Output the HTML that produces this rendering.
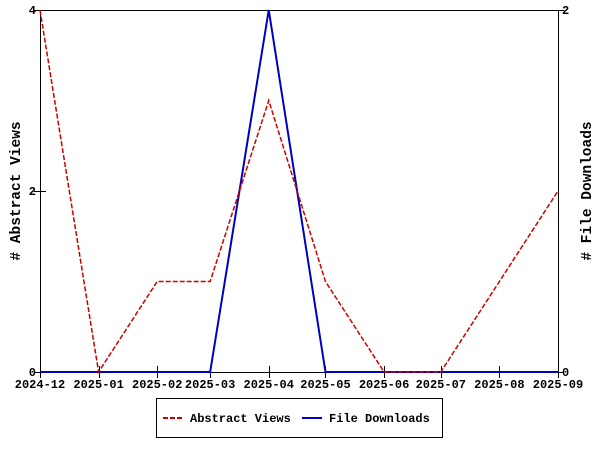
<!DOCTYPE html>
<html><head><meta charset="utf-8"><style>
body{margin:0;background:#fff;}
svg{display:block;font-family:"Liberation Mono","DejaVu Sans Mono",monospace;font-weight:bold;font-size:12px;}
</style></head><body>
<svg id="c" width="600" height="450"></svg>
<script>
const categories=["2024-12","2025-01","2025-02","2025-03","2025-04","2025-05","2025-06","2025-07","2025-08","2025-09"];
const abstractViews=[4,0,1,1,3,1,0,0,1,2];
const fileDownloads=[0,0,0,0,2,0,0,0,0,0];
const leftTicks=[0,2,4];
const rightTicks=[0,2];
const NS="http://www.w3.org/2000/svg";
const svg=document.getElementById('c');
const L=40,R=558,T=10,B=372;
function day(s){const [y,m]=s.split('-').map(Number);return Date.UTC(y,m-1,1)/864e5;}
const d0=day(categories[0]),d1=day(categories[categories.length-1]);
function x(i){return L+(day(categories[i])-d0)/(d1-d0)*(R-L);}
function yL(v){return B-v/4*(B-T);}
function yR(v){return B-v/2*(B-T);}
function el(tag,a,parent){const e=document.createElementNS(NS,tag);for(const k in a)e.setAttribute(k,a[k]);(parent||svg).appendChild(e);return e;}
const frame=el('rect',{x:L+0.5,y:T+0.5,width:R-L,height:B-T,fill:'none',stroke:'#000','stroke-width':1,'shape-rendering':'crispEdges'});


categories.forEach((c,i)=>{
  const xx=Math.round(x(i))+0.5;
  const t=el('line',{x1:xx,x2:xx,y1:B-6,y2:B+6,stroke:'#000','shape-rendering':'crispEdges'});
  
  
  const lb=el('text',{x:x(i),y:B+16,'text-anchor':'middle'});lb.textContent=c;
  
  
});
leftTicks.forEach(v=>{
  const yy=Math.round(yL(v))+0.5;
  const t=el('line',{x1:L-6,x2:L+6,y1:yy,y2:yy,stroke:'#000','shape-rendering':'crispEdges'});
  
  
  const lb=el('text',{x:L-4,y:yL(v)+4,'text-anchor':'end'});lb.textContent=v;
  
  
});
rightTicks.forEach(v=>{
  const yy=Math.round(yR(v))+0.5;
  const t=el('line',{x1:R-6,x2:R+6,y1:yy,y2:yy,stroke:'#000','shape-rendering':'crispEdges'});
  
  
  const lb=el('text',{x:R+4,y:yR(v)+4,'text-anchor':'start'});lb.textContent=v;
  
  
});
const yt=el('text',{x:20,y:191,'text-anchor':'middle',transform:'rotate(-90 20 191)','font-size':'14.5'});yt.textContent='# Abstract Views';


const yt2=el('text',{x:591,y:191,'text-anchor':'middle',transform:'rotate(-90 591 191)','font-size':'14.5'});yt2.textContent='# File Downloads';


const dl=el('polyline',{points:fileDownloads.map((v,i)=>x(i)+','+yR(v)).join(' '),fill:'none',stroke:'#0000c0','stroke-width':2});


const av=el('polyline',{points:abstractViews.map((v,i)=>x(i)+','+yL(v)).join(' '),fill:'none',stroke:'#cc0000','stroke-width':1.5,'stroke-dasharray':'5,2'});


const lg=el('g',{});


el('rect',{x:156.5,y:398.5,width:286,height:39,fill:'#fff',stroke:'#000','shape-rendering':'crispEdges'},lg);
const l1=el('line',{x1:163,x2:183,y1:418,y2:418,stroke:'#cc0000','stroke-width':2,'stroke-dasharray':'5,2'},lg);


const t1=el('text',{x:190,y:422},lg);t1.textContent='Abstract Views';


const l2=el('line',{x1:302,x2:322,y1:418,y2:418,stroke:'#0000c0','stroke-width':2},lg);


const t2=el('text',{x:329,y:422},lg);t2.textContent='File Downloads';


</script>
</body></html>
